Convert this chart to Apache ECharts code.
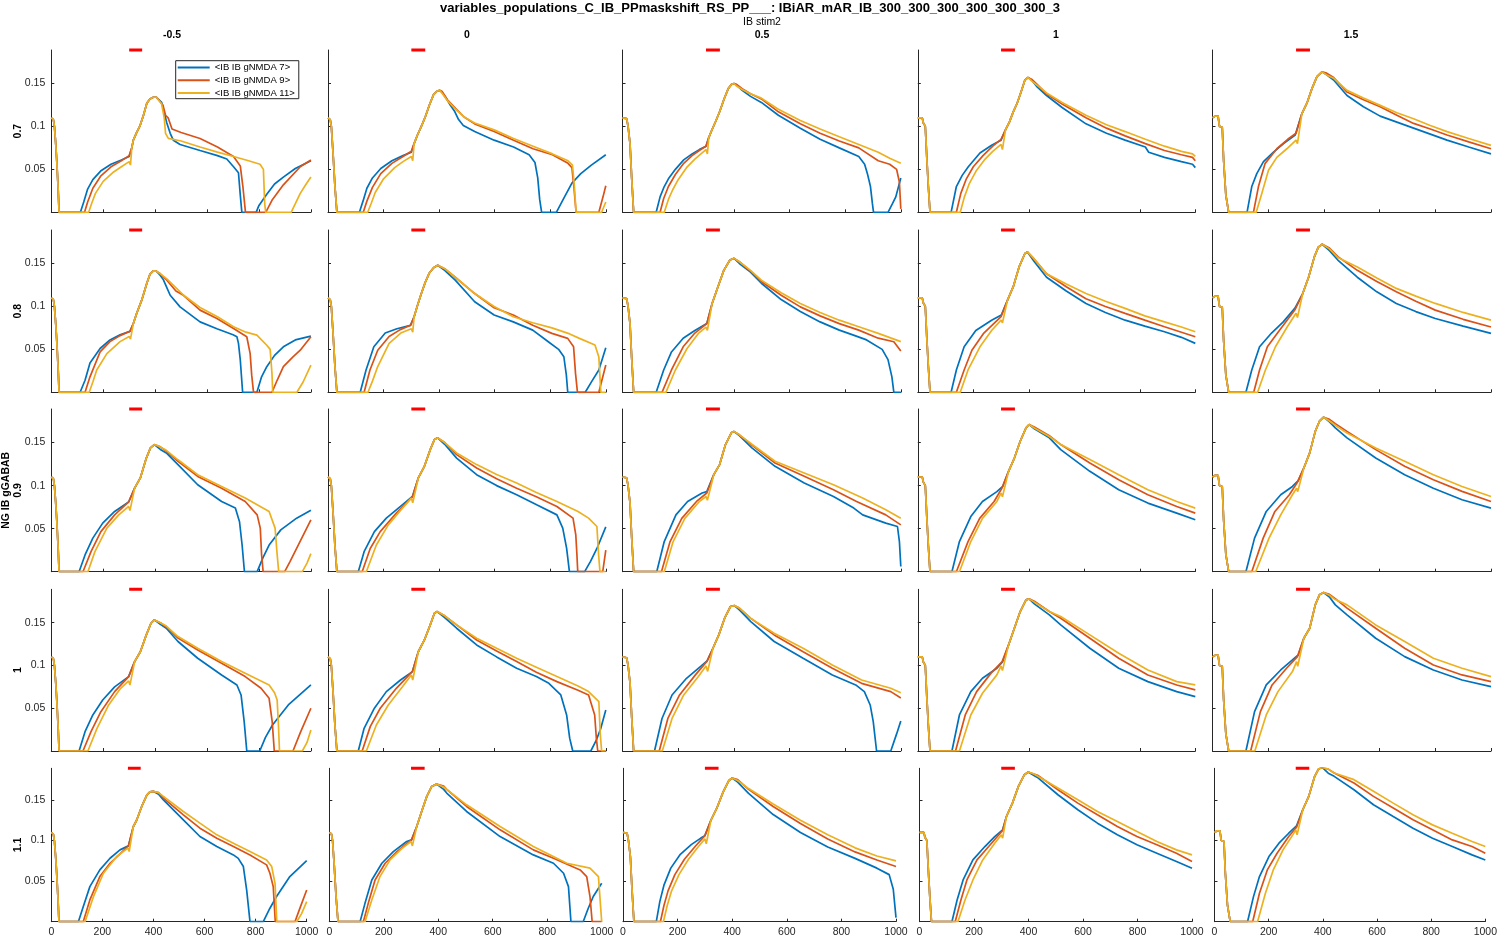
<!DOCTYPE html>
<html><head><meta charset="utf-8">
<script src="https://cdn.jsdelivr.net/npm/echarts@6/dist/echarts.min.js"></script>
<style>html,body{margin:0;padding:0;background:#fff}#c{width:1500px;height:938px}</style>
</head><body><div id="c"></div><script>
// ---------------- DATA ----------------
const mainTitle = 'variables_populations_C_IB_PPmaskshift_RS_PP___: IBiAR_mAR_IB_300_300_300_300_300_300_3';
const colVarName = 'IB stim2';
const rowVarName = 'NG IB gGABAB';
const colVals = ['-0.5', '0', '0.5', '1', '1.5'];
const rowVals = ['0.7', '0.8', '0.9', '1', '1.1'];
const seriesNames = ['<IB IB gNMDA 7>', '<IB IB gNMDA 9>', '<IB IB gNMDA 11>'];
const xTicks = [0, 200, 400, 600, 800, 1000];
const yTicks = [0.05, 0.1, 0.15];
const xMax = 1000, yMax = 0.189;
const stimWindow = [300, 350];

// initial fall (same for the three series), one per column
const onset = [
  [[0,0.11],[8,0.108],[12,0.1],[17,0.08],[21,0.06],[26,0.03],[30,0]],
  [[0,0.11],[8,0.108],[12,0.1],[18,0.07],[25,0.03],[32,0]],
  [[0,0.11],[15,0.109],[20,0.1],[27,0.08],[33,0.04],[40,0]],
  [[0,0.11],[16,0.11],[20,0.104],[27,0.1],[33,0.06],[38,0.03],[44,0]],
  [[0,0.11],[10,0.112],[20,0.112],[25,0.1],[35,0.099],[40,0.06],[48,0.02],[58,0]]
];

// ---- row gGABAB 0.7 ----
const rise07 = [
  [[[112,0],[125,0.012],[140,0.027],[160,0.038],[190,0.048],[230,0.056],[270,0.061],[300,0.065]],
   [[128,0],[140,0.012],[160,0.028],[190,0.042],[230,0.053],[270,0.06],[300,0.066]],
   [[144,0],[155,0.01],[170,0.022],[200,0.036],[240,0.047],[270,0.053],[300,0.059],[305,0.055]]],
  [[[113,0],[126,0.013],[140,0.028],[160,0.040],[190,0.051],[230,0.060],[270,0.066],[300,0.070]],
   [[127,0],[140,0.013],[160,0.029],[190,0.045],[230,0.057],[270,0.065],[300,0.071]],
   [[143,0],[155,0.01],[170,0.023],[200,0.039],[240,0.052],[270,0.059],[300,0.065],[305,0.06]]],
  [[[121,0],[135,0.018],[150,0.030],[165,0.039],[190,0.050],[220,0.061],[250,0.068],[276,0.073],[300,0.077]],
   [[135,0],[148,0.016],[165,0.030],[190,0.044],[220,0.057],[250,0.066],[276,0.072],[300,0.077]],
   [[150,0],[165,0.015],[180,0.026],[200,0.038],[230,0.052],[260,0.062],[285,0.069],[300,0.073],[305,0.068]]],
  [[[120,0],[139,0.030],[160,0.043],[182,0.053],[224,0.069],[266,0.078],[300,0.084]],
   [[139,0],[155,0.022],[175,0.039],[200,0.053],[235,0.066],[270,0.077],[300,0.085]],
   [[153,0],[168,0.018],[185,0.033],[210,0.048],[240,0.061],[270,0.071],[300,0.079],[305,0.073]]],
  [[[124,0],[141,0.030],[159,0.045],[183,0.059],[219,0.070],[255,0.080],[297,0.090],[300,0.092]],
   [[147,0],[165,0.030],[189,0.057],[231,0.074],[270,0.085],[300,0.092]],
   [[157,0],[177,0.022],[201,0.049],[231,0.064],[267,0.074],[300,0.084],[305,0.080]]]
];
const peak07 = [
  [[310,0.075],[316,0.084],[329,0.093],[342,0.101],[355,0.113],[368,0.127],[380,0.132],[393,0.134],[405,0.134]],
  [[310,0.080],[322,0.090],[336,0.100],[350,0.111],[365,0.125],[380,0.137],[392,0.141],[402,0.142]],
  [[310,0.087],[320,0.095],[335,0.106],[350,0.118],[365,0.132],[380,0.144],[392,0.149],[401,0.150]],
  [[316,0.096],[330,0.105],[344,0.117],[358,0.127],[372,0.140],[386,0.154],[397,0.157]],
  [[321,0.115],[339,0.127],[357,0.144],[375,0.158],[393,0.1635],[400,0.164]]
];
const decay07 = [
  [[[410,0.133],[425,0.128],[432,0.127],[445,0.104],[458,0.092],[470,0.084],[496,0.079],[573,0.072],[640,0.066],[676,0.062],[702,0.053],[721,0.046],[728,0.02],[734,0],[789,0],[800,0.008],[830,0.021],[860,0.033],[894,0.041],[940,0.051],[1000,0.060]],
   [[410,0.134],[430,0.125],[440,0.113],[450,0.110],[465,0.097],[500,0.093],[573,0.086],[640,0.076],[702,0.065],[728,0.054],[738,0.03],[748,0],[826,0],[850,0.014],[894,0.032],[959,0.053],[1000,0.061]],
   [[410,0.133],[425,0.126],[435,0.110],[440,0.092],[451,0.086],[500,0.083],[573,0.076],[640,0.070],[702,0.065],[760,0.060],[804,0.056],[817,0.050],[822,0.01],[826,0],[924,0],[940,0.01],[959,0.022],[980,0.032],[1000,0.041]]],
  [[[410,0.140],[425,0.133],[440,0.125],[455,0.118],[470,0.108],[487,0.101],[528,0.094],[598,0.084],[668,0.076],[724,0.067],[745,0.058],[755,0.04],[762,0.015],[769,0],[822,0],[850,0.017],[878,0.034],[910,0.045],[948,0.055],[1000,0.067]],
   [[410,0.141],[430,0.131],[459,0.121],[490,0.111],[528,0.103],[598,0.094],[668,0.084],[738,0.074],[808,0.067],[864,0.057],[878,0.052],[885,0.03],[893,0],[975,0],[990,0.018],[1000,0.031]],
   [[410,0.139],[430,0.130],[459,0.120],[490,0.111],[528,0.104],[598,0.096],[668,0.086],[738,0.077],[808,0.068],[864,0.060],[880,0.055],[887,0.03],[893,0],[985,0],[1000,0.012]]],
  [[[410,0.148],[430,0.142],[460,0.135],[499,0.128],[560,0.113],[639,0.098],[710,0.085],[779,0.075],[849,0.065],[870,0.056],[880,0.045],[891,0.03],[898,0.01],[902,0],[954,0],[970,0.01],[982,0.018],[1000,0.04]],
   [[410,0.149],[430,0.144],[460,0.138],[499,0.132],[560,0.117],[639,0.103],[710,0.092],[779,0.083],[849,0.075],[919,0.060],[960,0.056],[985,0.05],[995,0.035],[1000,0.004]],
   [[410,0.147],[430,0.143],[460,0.138],[499,0.133],[560,0.12],[639,0.107],[710,0.097],[779,0.088],[849,0.079],[919,0.070],[960,0.063],[1000,0.057]]],
  [[[410,0.154],[430,0.146],[464,0.136],[520,0.122],[606,0.103],[680,0.092],[747,0.084],[820,0.076],[832,0.070],[889,0.064],[950,0.059],[990,0.056],[1000,0.052]],
   [[410,0.155],[430,0.149],[464,0.138],[520,0.126],[606,0.110],[680,0.098],[747,0.089],[820,0.080],[889,0.072],[950,0.067],[990,0.064],[1000,0.06]],
   [[410,0.153],[430,0.148],[464,0.139],[520,0.128],[606,0.113],[680,0.102],[747,0.094],[820,0.085],[889,0.077],[950,0.071],[990,0.068],[1000,0.065]]],
  [[[410,0.160],[435,0.154],[483,0.136],[542,0.123],[602,0.112],[662,0.105],[722,0.098],[782,0.091],[842,0.084],[920,0.076],[1000,0.068]],
   [[410,0.162],[435,0.157],[483,0.140],[542,0.131],[602,0.123],[662,0.113],[722,0.1035],[782,0.097],[842,0.090],[920,0.082],[1000,0.074]],
   [[410,0.160],[435,0.156],[483,0.142],[542,0.133],[602,0.1245],[662,0.116],[722,0.109],[782,0.101],[842,0.094],[920,0.086],[1000,0.078]]]
];

// ---- row gGABAB 0.8 ----
const rise08 = [
  [[[111,0],[130,0.014],[149,0.034],[188,0.051],[226,0.061],[265,0.067],[303,0.071]],
   [[130,0],[149,0.018],[188,0.047],[226,0.059],[265,0.066],[303,0.071]],
   [[146,0],[160,0.012],[175,0.026],[214,0.045],[265,0.059],[300,0.065],[305,0.062]]],
  [[[116,0],[137,0.026],[165,0.053],[206,0.069],[248,0.074],[297,0.078]],
   [[130,0],[151,0.026],[179,0.049],[220,0.065],[260,0.073],[297,0.078]],
   [[144,0],[160,0.013],[179,0.030],[220,0.057],[262,0.069],[300,0.074],[305,0.070]]],
  [[[121,0],[148,0.026],[176,0.047],[218,0.063],[260,0.072],[303,0.080]],
   [[142,0],[176,0.026],[218,0.053],[260,0.069],[303,0.080]],
   [[156,0],[190,0.026],[232,0.051],[274,0.069],[300,0.076],[305,0.072]]],
  [[[120,0],[139,0.026],[167,0.053],[209,0.072],[266,0.084],[301,0.090]],
   [[139,0],[167,0.026],[195,0.049],[238,0.069],[300,0.088]],
   [[153,0],[181,0.026],[224,0.053],[266,0.072],[300,0.084],[305,0.081]]],
  [[[120,0],[141,0.026],[169,0.053],[212,0.069],[254,0.082],[296,0.098]],
   [[148,0],[169,0.026],[197,0.053],[240,0.072],[296,0.096]],
   [[162,0],[190,0.026],[226,0.053],[268,0.076],[300,0.092],[305,0.087]]]
];
const peak08 = [
  [[316,0.080],[329,0.092],[348,0.107],[368,0.127],[380,0.1375],[393,0.1414],[405,0.141]],
  [[310,0.088],[322,0.101],[336,0.115],[350,0.128],[365,0.139],[380,0.145],[395,0.148]],
  [[322,0.1035],[343,0.123],[364,0.142],[386,0.154],[401,0.156]],
  [[323,0.107],[344,0.123],[365,0.146],[386,0.1616],[395,0.1635]],
  [[324,0.115],[345,0.134],[366,0.158],[380,0.169],[394,0.1724]]
];
const decay08 = [
  [[[420,0.136],[432,0.131],[445,0.122],[458,0.113],[496,0.0995],[573,0.082],[638,0.074],[700,0.067],[715,0.0647],[721,0.057],[728,0.0376],[737,0],[792,0],[810,0.018],[830,0.0298],[860,0.043],[894,0.053],[940,0.061],[1000,0.0655]],
   [[420,0.138],[445,0.1306],[480,0.118],[509,0.113],[573,0.0957],[638,0.086],[702,0.0744],[753,0.0647],[766,0.045],[772,0.02],[779,0],[850,0],[870,0.014],[894,0.0298],[930,0.041],[959,0.049],[1000,0.0647]],
   [[420,0.138],[445,0.132],[510,0.113],[573,0.0988],[640,0.088],[702,0.0764],[750,0.070],[792,0.0666],[830,0.0548],[843,0.05],[850,0.022],[853,0],[946,0],[970,0.012],[1000,0.0317]]],
  [[[420,0.142],[458,0.1306],[528,0.1054],[598,0.090],[667,0.082],[737,0.0724],[793,0.0589],[830,0.050],[849,0.0414],[858,0.02],[863,0],[926,0],[950,0.013],[975,0.026],[1000,0.052]],
   [[420,0.144],[458,0.134],[528,0.115],[598,0.0985],[667,0.09],[737,0.078],[806,0.0686],[863,0.0628],[884,0.053],[891,0.022],[898,0],[975,0],[1000,0.0317]],
   [[420,0.144],[458,0.134],[528,0.115],[598,0.100],[667,0.088],[737,0.081],[806,0.075],[870,0.068],[905,0.0628],[961,0.055],[975,0.041],[982,0],[1000,0]]],
  [[[420,0.150],[460,0.140],[499,0.127],[570,0.108],[639,0.094],[710,0.082],[779,0.0724],[835,0.066],[877,0.061],[933,0.05],[954,0.038],[968,0.018],[975,0],[1000,0]],
   [[420,0.152],[460,0.141],[499,0.129],[570,0.113],[639,0.0995],[710,0.089],[779,0.080],[849,0.0724],[919,0.063],[975,0.0589],[1000,0.048]],
   [[420,0.152],[460,0.142],[499,0.1306],[570,0.116],[639,0.1035],[710,0.093],[779,0.084],[849,0.0763],[919,0.0686],[1000,0.059]]],
  [[[420,0.152],[464,0.134],[535,0.118],[606,0.1035],[676,0.093],[747,0.084],[818,0.077],[889,0.0705],[950,0.064],[1000,0.057]],
   [[420,0.155],[464,0.138],[535,0.123],[606,0.109],[676,0.100],[747,0.0919],[818,0.084],[889,0.0763],[950,0.070],[1000,0.0647]],
   [[420,0.155],[464,0.138],[535,0.126],[606,0.115],[676,0.106],[747,0.0977],[818,0.089],[889,0.082],[950,0.076],[1000,0.0705]]],
  [[[420,0.165],[450,0.154],[520,0.134],[590,0.117],[660,0.1035],[730,0.094],[800,0.086],[900,0.077],[1000,0.0686]],
   [[420,0.168],[450,0.158],[520,0.142],[590,0.129],[660,0.117],[730,0.106],[800,0.0957],[900,0.085],[1000,0.076]],
   [[420,0.167],[450,0.157],[520,0.146],[590,0.133],[660,0.121],[730,0.112],[800,0.1035],[900,0.093],[1000,0.084]]]
];

// ---- row gGABAB 0.9 ----
const rise09 = [
  [[[107,0],[130,0.0195],[160,0.039],[198,0.0564],[244,0.070],[298,0.081]],
   [[122,0],[153,0.0233],[191,0.0466],[244,0.066],[298,0.081]],
   [[141,0],[168,0.0233],[214,0.0506],[260,0.066],[298,0.0758],[303,0.071]]],
  [[[109,0],[130,0.0233],[167,0.0466],[210,0.0622],[261,0.0758],[304,0.0874]],
   [[123,0],[152,0.027],[188,0.0466],[246,0.068],[304,0.087]],
   [[138,0],[174,0.031],[217,0.0544],[268,0.0738],[300,0.0855],[305,0.08]]],
  [[[123,0],[150,0.035],[192,0.066],[234,0.0816],[286,0.0914],[303,0.093]],
   [[140,0],[171,0.035],[213,0.062],[266,0.0816],[303,0.0914]],
   [[150,0],[182,0.035],[224,0.062],[276,0.0816],[300,0.0874],[305,0.083]]],
  [[[123,0],[150,0.035],[191,0.064],[233,0.0816],[285,0.093],[306,0.099]],
   [[139,0],[181,0.035],[223,0.062],[275,0.0816],[303,0.097]],
   [[150,0],[191,0.035],[233,0.062],[285,0.0816],[300,0.0914],[305,0.087]]],
  [[[120,0],[151,0.039],[193,0.070],[245,0.0894],[287,0.099],[308,0.1057]],
   [[141,0],[182,0.039],[224,0.070],[276,0.0894],[305,0.104]],
   [[155,0],[203,0.039],[245,0.066],[287,0.0894],[302,0.097],[306,0.093]]]
];
const peak09 = [
  [[321,0.097],[343,0.1089],[366,0.132],[382,0.1438],[397,0.1477]],
  [[325,0.1089],[347,0.1224],[368,0.1418],[383,0.1535],[395,0.1555]],
  [[328,0.1127],[349,0.1244],[370,0.1477],[391,0.1613],[400,0.163]],
  [[327,0.1166],[348,0.132],[369,0.1515],[390,0.167],[401,0.171]],
  [[328,0.1205],[349,0.138],[369,0.163],[384,0.1748],[399,0.1795]]
];
const decay09 = [
  [[[420,0.142],[443,0.138],[488,0.1244],[564,0.101],[656,0.0816],[709,0.074],[725,0.058],[735,0.031],[744,0],[793,0],[815,0.016],[839,0.031],[884,0.0486],[945,0.0622],[1000,0.0715]],
   [[420,0.145],[443,0.140],[488,0.1283],[564,0.1107],[656,0.097],[747,0.0816],[793,0.066],[805,0.0506],[810,0.02],[816,0],[899,0],[920,0.012],[945,0.027],[1000,0.0602]],
   [[420,0.145],[443,0.141],[488,0.130],[564,0.1127],[656,0.099],[747,0.0855],[839,0.0699],[862,0.0506],[870,0.02],[876,0],[967,0],[985,0.01],[1000,0.021]]],
  [[[420,0.148],[463,0.132],[535,0.1127],[607,0.100],[679,0.0894],[751,0.0777],[824,0.066],[845,0.0506],[859,0.027],[869,0],[924,0],[945,0.012],[968,0.027],[1000,0.052]],
   [[420,0.150],[463,0.136],[535,0.1205],[607,0.108],[679,0.097],[750,0.087],[824,0.0758],[882,0.0622],[892,0.0427],[896,0.02],[899,0],[989,0],[1000,0.025]],
   [[420,0.150],[463,0.138],[535,0.1244],[607,0.113],[679,0.1031],[750,0.092],[824,0.0816],[900,0.070],[938,0.0622],[968,0.0525],[974,0.02],[979,0],[1000,0]]],
  [[[420,0.158],[465,0.1438],[548,0.1224],[653,0.103],[758,0.0874],[831,0.0739],[863,0.066],[946,0.0564],[988,0.0525],[995,0.035],[1000,0.006]],
   [[420,0.159],[465,0.147],[548,0.1263],[653,0.1108],[758,0.0952],[841,0.0816],[946,0.066],[1000,0.0544]],
   [[420,0.159],[465,0.148],[548,0.1283],[653,0.1147],[758,0.101],[863,0.0855],[946,0.0719],[1000,0.0622]]],
  [[[420,0.166],[474,0.1555],[515,0.1418],[620,0.1166],[724,0.0952],[829,0.0797],[933,0.068],[1000,0.0603]],
   [[420,0.168],[474,0.158],[515,0.1477],[620,0.1263],[724,0.1069],[829,0.0894],[933,0.0758],[1000,0.068]],
   [[420,0.167],[474,0.157],[515,0.1477],[620,0.1302],[724,0.1127],[829,0.0952],[933,0.0816],[1000,0.0738]]],
  [[[420,0.174],[441,0.167],[483,0.1555],[586,0.132],[690,0.1127],[793,0.097],[896,0.0836],[1000,0.0739]],
   [[420,0.177],[441,0.172],[483,0.163],[586,0.1418],[690,0.1224],[793,0.1069],[896,0.0933],[1000,0.0816]],
   [[420,0.175],[441,0.170],[483,0.161],[586,0.1438],[690,0.1283],[793,0.1127],[896,0.099],[1000,0.0874]]]
];

// ---- row gGABAB 1 ----
const rise10 = [
  [[[107,0],[130,0.0226],[160,0.0421],[198,0.0596],[244,0.075],[298,0.0869]],
   [[122,0],[153,0.0226],[191,0.046],[244,0.0694],[298,0.087]],
   [[141,0],[176,0.0265],[221,0.0538],[267,0.0733],[298,0.0819],[303,0.077]]],
  [[[109,0],[130,0.0265],[167,0.05],[210,0.0694],[261,0.083],[304,0.0928]],
   [[123,0],[152,0.0285],[188,0.05],[246,0.0733],[304,0.093]],
   [[138,0],[174,0.0304],[217,0.0538],[268,0.075],[300,0.0889],[305,0.083]]],
  [[[115,0],[142,0.038],[178,0.0655],[230,0.085],[283,0.0994],[304,0.1053]],
   [[132,0],[163,0.038],[205,0.0655],[262,0.089],[304,0.105]],
   [[143,0],[178,0.038],[220,0.0655],[272,0.0869],[300,0.0994],[306,0.093]]],
  [[[123,0],[150,0.0421],[191,0.0694],[233,0.085],[285,0.0967],[306,0.1045]],
   [[136,0],[171,0.0421],[212,0.0694],[264,0.091],[304,0.1045]],
   [[150,0],[191,0.0421],[233,0.0675],[285,0.089],[300,0.0994],[305,0.094]]],
  [[[120,0],[151,0.046],[193,0.0772],[245,0.0947],[287,0.1064],[308,0.1123]],
   [[137,0],[172,0.046],[214,0.0772],[266,0.0967],[305,0.1103]],
   [[152,0],[193,0.0421],[235,0.0694],[287,0.0928],[302,0.1045],[306,0.099]]]
];
const peak10 = [
  [[321,0.1045],[343,0.116],[366,0.1357],[384,0.1493],[397,0.1532]],
  [[325,0.116],[347,0.1298],[368,0.1474],[383,0.161],[393,0.163]],
  [[325,0.1201],[346,0.1357],[367,0.1552],[388,0.1689],[402,0.170]],
  [[327,0.124],[348,0.1435],[369,0.163],[390,0.1767],[401,0.1778]],
  [[328,0.1318],[349,0.1435],[369,0.1708],[384,0.1825],[399,0.1852]]
];
const decay10 = [
  [[[420,0.148],[443,0.1435],[488,0.128],[564,0.1084],[656,0.0889],[715,0.0772],[731,0.0655],[743,0.0343],[753,0],[803,0],[825,0.016],[852,0.0304],[913,0.0538],[1000,0.0772]],
   [[420,0.150],[443,0.145],[488,0.132],[564,0.118],[656,0.1025],[747,0.087],[808,0.0733],[839,0.0616],[851,0.034],[859,0],[931,0],[960,0.022],[1000,0.05]],
   [[420,0.150],[443,0.146],[488,0.1338],[564,0.1201],[656,0.1045],[747,0.0909],[839,0.0772],[860,0.068],[870,0.0597],[875,0.03],[879,0],[967,0],[985,0.01],[1000,0.0246]]],
  [[[420,0.156],[463,0.1435],[535,0.124],[607,0.110],[679,0.0967],[750,0.087],[795,0.0791],[838,0.0655],[859,0.0421],[870,0.015],[881,0],[946,0],[965,0.012],[982,0.0265],[1000,0.048]],
   [[420,0.158],[463,0.1474],[535,0.1298],[607,0.117],[679,0.1045],[750,0.092],[824,0.0811],[900,0.071],[938,0.0655],[960,0.0421],[966,0.015],[971,0],[1000,0]],
   [[420,0.158],[463,0.1474],[535,0.1318],[607,0.12],[679,0.1084],[750,0.098],[824,0.087],[900,0.076],[938,0.0694],[975,0.0577],[980,0.02],[985,0],[1000,0]]],
  [[[420,0.165],[461,0.1513],[545,0.128],[649,0.1084],[754,0.0889],[838,0.0772],[869,0.0694],[890,0.0538],[901,0.0343],[913,0],[964,0],[985,0.02],[1000,0.035]],
   [[420,0.167],[461,0.155],[545,0.1357],[649,0.116],[754,0.0967],[859,0.0791],[964,0.0694],[1000,0.062]],
   [[420,0.167],[461,0.155],[545,0.1377],[649,0.1201],[754,0.1006],[859,0.083],[964,0.0733],[1000,0.068]]],
  [[[420,0.172],[474,0.1591],[515,0.1474],[620,0.1201],[724,0.0967],[829,0.0811],[933,0.0694],[1000,0.0636]],
   [[420,0.175],[474,0.163],[515,0.1552],[620,0.1318],[724,0.1084],[829,0.0889],[933,0.0772],[1000,0.0714]],
   [[420,0.174],[474,0.163],[515,0.1572],[620,0.1357],[724,0.1142],[829,0.0947],[933,0.0811],[1000,0.0772]]],
  [[[420,0.180],[441,0.1708],[483,0.1591],[586,0.1318],[690,0.1103],[793,0.0947],[896,0.083],[1000,0.0752]],
   [[420,0.183],[441,0.178],[483,0.167],[586,0.1435],[690,0.1201],[793,0.1006],[896,0.0889],[1000,0.0811]],
   [[420,0.182],[441,0.177],[483,0.1708],[586,0.1474],[690,0.1279],[793,0.1084],[896,0.0967],[1000,0.0869]]]
];

// ---- row gGABAB 1.1 ----
const rise11 = [
  [[[106,0],[125,0.0185],[151,0.0432],[190,0.0638],[230,0.0782],[269,0.0885],[302,0.0934]],
   [[125,0],[151,0.0268],[190,0.0556],[230,0.072],[302,0.0934]],
   [[132,0],[165,0.0309],[204,0.0597],[256,0.0803],[300,0.0906],[305,0.0865]]],
  [[[113,0],[131,0.0226],[156,0.0514],[193,0.072],[235,0.0864],[284,0.0988],[302,0.1008]],
   [[125,0],[143,0.0226],[168,0.0514],[205,0.072],[248,0.0864],[302,0.101]],
   [[131,0],[156,0.0267],[186,0.0556],[223,0.0761],[266,0.09],[300,0.0988],[305,0.0934]]],
  [[[122,0],[135,0.025],[150,0.045],[175,0.066],[210,0.083],[250,0.095],[285,0.103],[300,0.106]],
   [[137,0],[150,0.02],[165,0.038],[190,0.058],[225,0.077],[265,0.093],[300,0.106]],
   [[148,0],[162,0.02],[178,0.038],[205,0.058],[240,0.077],[275,0.092],[300,0.102],[305,0.096]]],
  [[[119,0],[138,0.0267],[160,0.0514],[196,0.0761],[240,0.0926],[276,0.1049],[305,0.1132]],
   [[131,0],[152,0.0267],[174,0.0514],[211,0.0761],[254,0.0926],[305,0.1124]],
   [[141,0],[167,0.0267],[196,0.0514],[232,0.0761],[276,0.0967],[300,0.107],[305,0.103]]],
  [[[122,0],[144,0.0309],[166,0.0556],[201,0.0803],[238,0.0967],[274,0.109],[303,0.1181]],
   [[141,0],[166,0.035],[195,0.0638],[231,0.0844],[274,0.1049],[303,0.1164]],
   [[159,0],[188,0.035],[217,0.0638],[253,0.0885],[289,0.107],[300,0.1132],[305,0.107]]]
];
const peak11 = [
  [[321,0.117],[334,0.125],[354,0.142],[374,0.156],[386,0.160],[399,0.1606]],
  [[321,0.1173],[339,0.1358],[358,0.1544],[376,0.1667],[394,0.1695]],
  [[322,0.125],[345,0.141],[367,0.16],[388,0.174],[400,0.177]],
  [[319,0.1296],[341,0.1461],[363,0.1667],[385,0.1811],[399,0.1844]],
  [[326,0.1379],[348,0.1544],[370,0.1791],[384,0.1881],[398,0.190]]
];
const decay11 = [
  [[[420,0.157],[439,0.150],[517,0.1255],[582,0.105],[648,0.0926],[713,0.0823],[732,0.078],[752,0.068],[765,0.039],[778,0],[830,0],[855,0.016],[882,0.031],[934,0.0556],[1000,0.0753]],
   [[420,0.159],[439,0.1523],[517,0.1317],[582,0.1152],[648,0.1029],[713,0.0926],[778,0.0823],[843,0.07],[856,0.0597],[869,0.0432],[877,0],[954,0],[975,0.018],[1000,0.039]],
   [[420,0.159],[439,0.1544],[517,0.1358],[582,0.1214],[648,0.107],[713,0.0967],[778,0.0864],[843,0.0761],[863,0.0679],[876,0.0473],[883,0],[961,0],[980,0.01],[1000,0.0247]]],
  [[[420,0.163],[431,0.1585],[504,0.1358],[627,0.1049],[749,0.0823],[823,0.072],[860,0.0597],[878,0.0432],[887,0],[932,0],[950,0.016],[969,0.031],[1000,0.0473]],
   [[420,0.167],[431,0.163],[504,0.142],[627,0.1132],[749,0.0885],[823,0.0782],[921,0.0638],[945,0.0556],[957,0.031],[965,0],[1000,0]],
   [[420,0.166],[431,0.163],[504,0.144],[627,0.1173],[749,0.0926],[872,0.072],[957,0.066],[988,0.0556],[996,0.0185],[1000,0]]],
  [[[420,0.172],[460,0.158],[550,0.132],[650,0.110],[750,0.092],[850,0.078],[930,0.066],[975,0.058],[990,0.04],[1000,0.005]],
   [[420,0.175],[460,0.163],[550,0.142],[650,0.121],[750,0.102],[850,0.086],[930,0.076],[1000,0.068]],
   [[420,0.174],[460,0.164],[550,0.145],[650,0.125],[750,0.107],[850,0.091],[930,0.081],[1000,0.075]]],
  [[[420,0.180],[436,0.177],[508,0.1564],[581,0.1379],[653,0.1214],[726,0.107],[798,0.0947],[871,0.0844],[943,0.0741],[1000,0.0658]],
   [[420,0.182],[436,0.180],[508,0.1626],[581,0.1461],[653,0.1317],[726,0.1173],[798,0.1049],[871,0.0947],[943,0.0844],[1000,0.0741]],
   [[420,0.182],[436,0.179],[508,0.1647],[581,0.1503],[653,0.1358],[726,0.1235],[798,0.1111],[871,0.0988],[943,0.0885],[1000,0.0823]]],
  [[[420,0.183],[442,0.1791],[515,0.1626],[587,0.1441],[660,0.1296],[733,0.1152],[805,0.1029],[878,0.0926],[951,0.0823],[1000,0.0761]],
   [[420,0.188],[442,0.1832],[515,0.1709],[587,0.1544],[660,0.14],[733,0.1255],[805,0.1132],[878,0.1008],[951,0.0926],[1000,0.0844]],
   [[420,0.188],[442,0.1832],[515,0.175],[587,0.1606],[660,0.1461],[733,0.1317],[805,0.1193],[878,0.109],[951,0.0988],[1000,0.0926]]]
];

// ---------------- LAYOUT / STYLE ----------------
const FONT = '"Liberation Sans", Arial, Helvetica, sans-serif';
const AX = '#262626';
const lineColors = ['#0072BD', '#D95319', '#EDB120'];
const rowTop = [50, 230, 409, 589.3, 768.3];
const rowH = [162.3, 162.3, 162.7, 161.7, 153.4];
const colLeft = [[51.3, 328, 622.5, 917.8, 1212.5], [51.3, 328, 622.5, 917.8, 1212.5], [51.3, 328, 622.5, 917.8, 1212.5], [51.3, 328, 622.5, 917.8, 1212.5], [51.3, 329.3, 623, 919.5, 1214.5]];
const colW = [[259.6, 277.8, 278.3, 277.5, 278.5], [259.6, 277.8, 278.3, 277.5, 278.5], [259.6, 277.8, 278.3, 277.5, 278.5], [259.6, 277.8, 278.3, 277.5, 278.5], [255.4, 272.4, 273, 272.5, 272]];
const colTitleX = [172, 467, 762, 1056, 1351];

const rises = [rise07, rise08, rise09, rise10, rise11];
const peaks = [peak07, peak08, peak09, peak10, peak11];
const decays = [decay07, decay08, decay09, decay10, decay11];

const grids = [], xAxes = [], yAxes = [], series = [];
for (let r = 0; r < 5; r++) {
  for (let c = 0; c < 5; c++) {
    const gi = r * 5 + c;
    grids.push({ left: colLeft[r][c], top: rowTop[r], width: colW[r][c], height: rowH[r], containLabel: false });
    xAxes.push({
      type: 'value', gridIndex: gi, min: 0, max: xMax, interval: 200,
      axisLine: { show: true, onZero: false, lineStyle: { color: AX, width: 1 } },
      axisTick: { show: true, inside: true, length: 3, lineStyle: { color: AX } },
      splitLine: { show: false },
      axisLabel: { show: r === 4, color: AX, fontSize: 10.5, fontFamily: FONT, margin: 5, customValues: xTicks,
        formatter: v => String(v) }
    });
    yAxes.push({
      type: 'value', gridIndex: gi, min: 0, max: yMax,
      axisLine: { show: true, onZero: false, lineStyle: { color: AX, width: 1 } },
      axisTick: { show: true, inside: true, length: 3, lineStyle: { color: AX }, customValues: yTicks },
      splitLine: { show: false },
      axisLabel: { show: c === 0, color: AX, fontSize: 10.5, fontFamily: FONT, margin: 6, customValues: yTicks,
        formatter: v => String(Math.round(v * 100) / 100) }
    });
    for (let k = 0; k < 3; k++) {
      const data = onset[c].concat(rises[r][c][k], peaks[r][c], decays[r][c][k]);
      series.push({
        type: 'line', name: seriesNames[k], xAxisIndex: gi, yAxisIndex: gi, data: data,
        symbol: 'none', showSymbol: false, clip: true, silent: true,
        color: lineColors[k], lineStyle: { color: lineColors[k], width: 1.7 }, z: 2 + k
      });
    }
    series.push({
      type: 'line', name: 'stim', xAxisIndex: gi, yAxisIndex: gi,
      data: [[stimWindow[0], yMax], [stimWindow[1], yMax]],
      symbol: 'none', clip: false, silent: true,
      lineStyle: { color: '#FF0000', width: 3 }, z: 6
    });
  }
}

const texts = [];
texts.push({ type: 'text', x: 750, y: 8, style: { text: mainTitle, fontSize: 13, fontWeight: 'bold', fontFamily: FONT, fill: '#000', align: 'center', verticalAlign: 'middle' } });
texts.push({ type: 'text', x: 762, y: 22, style: { text: colVarName, fontSize: 10.5, fontFamily: FONT, fill: '#000', align: 'center', verticalAlign: 'middle' } });
for (let c = 0; c < 5; c++) {
  texts.push({ type: 'text', x: colTitleX[c], y: 35, style: { text: colVals[c], fontSize: 10.5, fontWeight: 'bold', fontFamily: FONT, fill: '#000', align: 'center', verticalAlign: 'middle' } });
}
for (let r = 0; r < 5; r++) {
  const cy = rowTop[r] + rowH[r] / 2;
  texts.push({ type: 'text', x: 18, y: cy, rotation: Math.PI / 2, style: { text: rowVals[r], fontSize: 10.5, fontWeight: 'bold', fontFamily: FONT, fill: '#000', align: 'center', verticalAlign: 'middle' } });
  if (r === 2) {
    texts.push({ type: 'text', x: 6, y: cy, rotation: Math.PI / 2, style: { text: rowVarName, fontSize: 10.5, fontWeight: 'bold', fontFamily: FONT, fill: '#000', align: 'center', verticalAlign: 'middle' } });
  }
}

const chart = echarts.init(document.getElementById('c'), null, { renderer: 'canvas' });
chart.setOption({
  animation: false,
  backgroundColor: '#fff',
  textStyle: { fontFamily: FONT },
  grid: grids, xAxis: xAxes, yAxis: yAxes, series: series,
  legend: {
    data: seriesNames, selectedMode: false, orient: 'vertical', left: 175.7, top: 60.7,
    icon: 'rect', itemWidth: 32, itemHeight: 2, itemGap: 1.4, padding: [1, 4, 0, 2],
    borderColor: AX, borderWidth: 1, backgroundColor: '#fff',
    textStyle: { fontSize: 9.5, color: '#000', fontFamily: FONT, lineHeight: 11.4 }
  },
  graphic: { elements: texts }
});
</script></body></html>
